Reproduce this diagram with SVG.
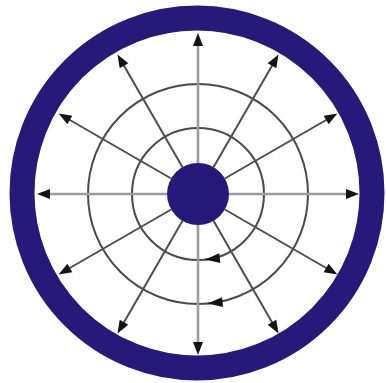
<svg xmlns="http://www.w3.org/2000/svg" width="386" height="383" viewBox="0 0 386 383">
<style>
.ring{fill:none;stroke:#27197a;stroke-width:25}
.hub{fill:#27197a}
.circ{fill:none;stroke:#4a4a4a;stroke-width:2}
.axis{stroke:#9c9c9c;stroke-width:2.6;fill:none}
.diag{stroke:#4d4d4d;stroke-width:2;fill:none}
.sp{marker-end:url(#ah)}
.tan{fill:none;stroke:#4a4a4a;stroke-width:2;marker-end:url(#th)}
</style>
<defs>
<marker id="ah" markerUnits="userSpaceOnUse" markerWidth="15" markerHeight="11" refX="2" refY="5" orient="auto" overflow="visible">
<path d="M0,0 L13,5 L0,10 z" fill="#141414"/>
</marker>
<marker id="th" markerUnits="userSpaceOnUse" markerWidth="16" markerHeight="10" refX="15" refY="5" orient="auto" overflow="visible">
<path d="M0,0 L15,5 L0,10 z" fill="#141414"/>
</marker>
</defs>
<g id="rings">
<circle id="circle-inner" class="circ" cx="198" cy="194" r="66"/>
<circle id="circle-outer" class="circ" cx="198" cy="194" r="110"/>
</g>
<g id="connectors">
<line class="axis sp" x1="229" y1="194" x2="348" y2="194"/>
<line class="diag sp" x1="224.85" y1="209.5" x2="327.9" y2="269"/>
<line class="diag sp" x1="213.5" y1="220.85" x2="273" y2="323.9"/>
<line class="axis sp" x1="198" y1="225" x2="198" y2="344"/>
<line class="diag sp" x1="182.5" y1="220.85" x2="123" y2="323.9"/>
<line class="diag sp" x1="171.15" y1="209.5" x2="68.1" y2="269"/>
<line class="axis sp" x1="167" y1="194" x2="48" y2="194"/>
<line class="diag sp" x1="171.15" y1="178.5" x2="68.1" y2="119"/>
<line class="diag sp" x1="182.5" y1="167.15" x2="123" y2="64.1"/>
<line class="axis sp" x1="198" y1="163" x2="198" y2="44"/>
<line class="diag sp" x1="213.5" y1="167.15" x2="273" y2="64.1"/>
<line class="diag sp" x1="224.85" y1="178.5" x2="327.9" y2="119"/>
<path class="tan" d="M207.9,259.3 L204.9,259.6"/>
<path class="tan" d="M210.6,303.3 L207.6,303.6"/>
</g>
<g id="outer-ring">
<circle class="ring" cx="197" cy="193" r="175"/>
</g>
<g id="hub">
<circle class="hub" cx="198" cy="194" r="31"/>
</g>
</svg>
